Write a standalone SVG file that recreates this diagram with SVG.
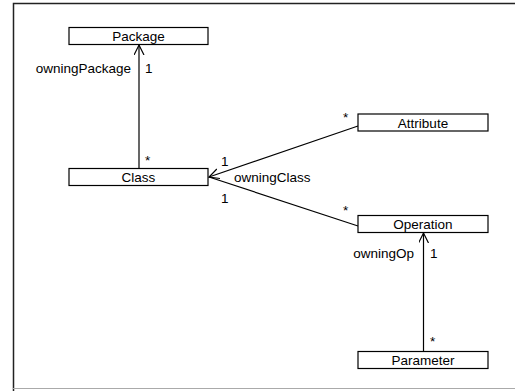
<svg xmlns="http://www.w3.org/2000/svg" width="515" height="391" viewBox="0 0 515 391">
<style>
.box{fill:#fff;stroke:#000;stroke-width:1.2}
.t{font-family:"Liberation Sans",Arial,sans-serif;font-size:13.5px;fill:#000}
.c{text-anchor:middle}
.e{text-anchor:end}
.ln{stroke:#000;stroke-width:1.2;fill:none}
</style>
<defs>
<marker id="open" markerWidth="12" markerHeight="12" refX="10" refY="5" orient="auto" markerUnits="userSpaceOnUse">
<path d="M0,0 L10,5 L0,10" fill="none" stroke="#000" stroke-width="1.2"/>
</marker>
</defs>
<rect x="0" y="0" width="515" height="391" fill="#fff"/>
<path d="M13.5,391 V3.5 H515" fill="none" stroke="#222" stroke-width="1.5"/>
<line x1="13" y1="388.5" x2="515" y2="388.5" stroke="#aaa" stroke-width="1"/>
<g id="connectors">
<line class="ln" x1="139" y1="168" x2="139" y2="45" marker-end="url(#open)"/>
<line class="ln" x1="358" y1="126" x2="209" y2="177" marker-end="url(#open)"/>
<line class="ln" x1="358" y1="226" x2="209" y2="177"/>
<line class="ln" x1="423.5" y1="351.5" x2="423.5" y2="233" marker-end="url(#open)"/>
<text class="t e" x="131" y="73">owningPackage</text>
<text class="t" x="145" y="73">1</text>
<text class="t" x="145" y="165">*</text>
<text class="t" x="221" y="166">1</text>
<text class="t" x="234" y="182">owningClass</text>
<text class="t" x="221" y="203">1</text>
<text class="t" x="343" y="122">*</text>
<text class="t" x="343" y="215">*</text>
<text class="t e" x="414" y="258">owningOp</text>
<text class="t" x="430" y="258">1</text>
<text class="t" x="430" y="346">*</text>
</g>
<g id="package"><rect class="box" x="69" y="27.5" width="139" height="17"/><text class="t c" x="138.5" y="41">Package</text></g>
<g id="class"><rect class="box" x="69" y="168.5" width="139" height="17"/><text class="t c" x="138.5" y="182">Class</text></g>
<g id="attribute"><rect class="box" x="358" y="114" width="130" height="17"/><text class="t c" x="423" y="127.5">Attribute</text></g>
<g id="operation"><rect class="box" x="358" y="215.5" width="130" height="17"/><text class="t c" x="423" y="229">Operation</text></g>
<g id="parameter"><rect class="box" x="358" y="351.5" width="130" height="17"/><text class="t c" x="423" y="365">Parameter</text></g>
</svg>
